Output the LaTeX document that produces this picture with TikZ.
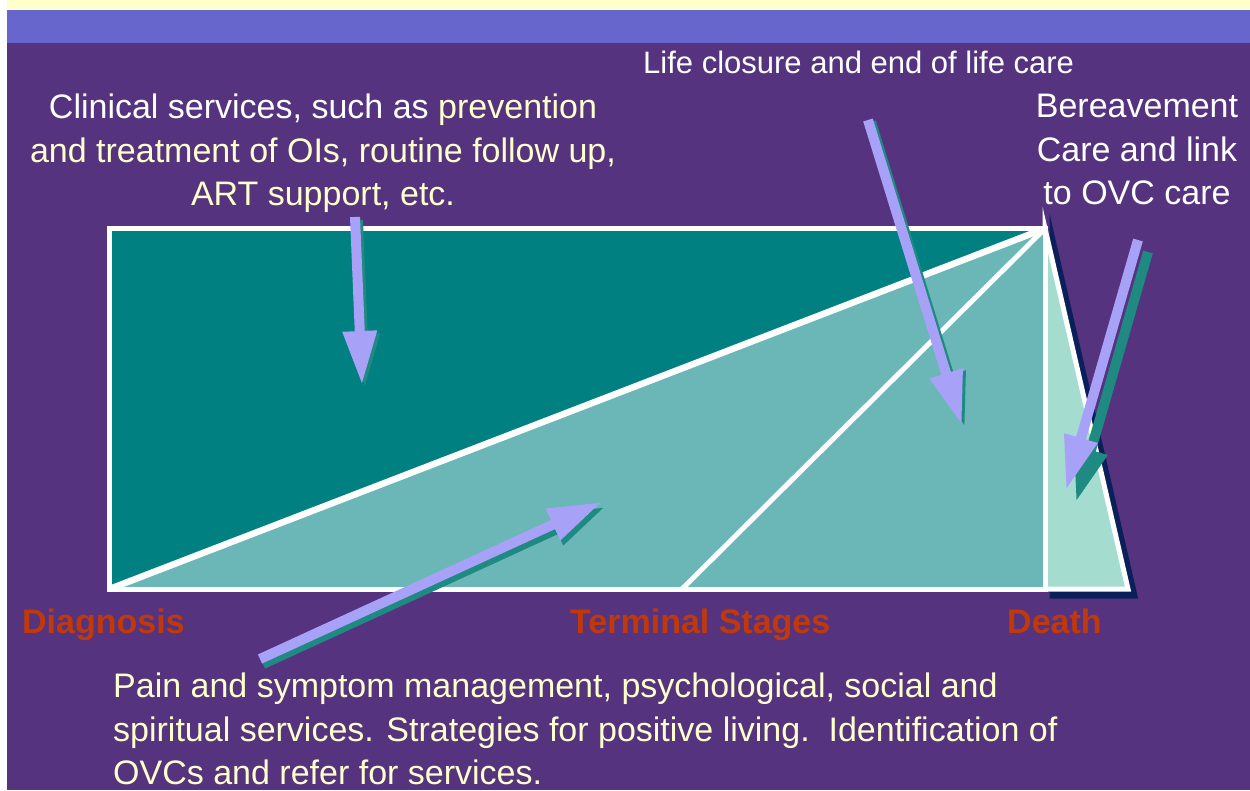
\documentclass[tikz,border=0pt]{standalone}
\usepackage{fontspec}
\setmainfont{Liberation Sans}
\usetikzlibrary{arrows.meta}
\definecolor{bgpurple}{HTML}{55337F}
\definecolor{bandblue}{HTML}{6666CC}
\definecolor{cream}{HTML}{FFFFCC}
\definecolor{darkteal}{HTML}{008080}
\definecolor{lightteal}{HTML}{6BB6B6}
\definecolor{mint}{HTML}{A4DCD0}
\definecolor{navy}{HTML}{0B1F5B}
\definecolor{lavender}{HTML}{A7A1F7}
\definecolor{shteal}{HTML}{1F8A82}
\definecolor{labelred}{HTML}{C0390A}
\begin{document}
\begin{tikzpicture}[x=1pt,y=-1pt,
  fatarrow/.style={line width=10pt, draw=lavender, -{Triangle[length=54pt,width=32pt]}},
  shadowarrow/.style={fatarrow, draw=shteal},
  whiteline/.style={draw=white, line width=5pt, line join=miter},
  bodytxt/.style={inner sep=0pt, font=\fontsize{34}{43.5}\selectfont},
  stagelabel/.style={inner sep=0pt, anchor=base west, text=labelred, font=\bfseries\fontsize{34}{40}\selectfont}]
\useasboundingbox (0,0) rectangle (1250,790);
% background
\fill[white] (0,0) rectangle (1250,790);
\fill[cream] (7,0) rectangle (1250,10);
\fill[bandblue] (7,10) rectangle (1250,43);
\fill[bgpurple] (7,43) rectangle (1250,790);
% geometry
\coordinate (TL) at (109.5,228.5);
\coordinate (TR) at (1045,228.5);
\coordinate (BR) at (1045,589);
\coordinate (BL) at (109.5,589);
\coordinate (TE) at (1128,589);
\coordinate (MID) at (682,589);
% triangle with shadow
\filldraw[fill=navy, draw=navy, line width=5pt] ([shift={(7,7)}]TR) -- ([shift={(7,7)}]TE) -- ([shift={(7,7)}]BR) -- cycle;
\filldraw[fill=mint, whiteline] (TR) -- (TE) -- (BR) -- cycle;
% rectangle
\fill[darkteal] (TL) rectangle (BR);
\fill[lightteal] (BL) -- (TR) -- (BR) -- cycle;
\draw[whiteline] (TL) rectangle (BR);
\draw[whiteline, line width=6.5pt] (BL) -- (TR);
\draw[whiteline] (MID) -- (TR);
% arrow end points
\coordinate (a1s) at (355,217);
\coordinate (a1e) at (362,385);
\coordinate (a2s) at (868,120);
\coordinate (a2e) at (962,425);
\coordinate (a3s) at (1138,240);
\coordinate (a3e) at (1066,490);
\coordinate (a4s) at (260,659);
\coordinate (a4e) at (602,502);
% arrows
\draw[shadowarrow] ([shift={(3,3)}]a1s) -- ([shift={(3,3)}]a1e);
\draw[fatarrow] (a1s) -- (a1e);
\draw[shadowarrow] ([shift={(3,2)}]a2s) -- ([shift={(3,2)}]a2e);
\draw[fatarrow] (a2s) -- (a2e);
\draw[shadowarrow] ([shift={(10,12)}]a3s) -- ([shift={(10,12)}]a3e);
\draw[fatarrow] (a3s) -- (a3e);
\draw[shadowarrow] ([shift={(3,5)}]a4s) -- ([shift={(3,5)}]a4e);
\draw[fatarrow] (a4s) -- (a4e);
% texts
\node[bodytxt, anchor=base west, text=white, font=\fontsize{31}{38}\selectfont] (life) at (643,73) {Life closure and end of life care};
\node[bodytxt, anchor=north, align=center, text=cream] (clin) at (323,94)
  {\textcolor{white}{Clinical services, such as} prevention\\and treatment of OIs, routine follow up,\\ART support, etc.};
\node[bodytxt, anchor=north, align=center, text=white] (bere) at (1137,94)
  {Bereavement\\Care and link\\to OVC care};
\node[bodytxt, anchor=north west, align=left, text=cream] (pain) at (113,673)
  {Pain and symptom management, psychological, social and\\spiritual services. Strategies for positive living.\ \ Identification of\\OVCs and refer for services.};
\node[stagelabel] (diag) at (22,633) {Diagnosis};
\node[stagelabel] (term) at (570,633) {Terminal Stages};
\node[stagelabel] (death) at (1007,633) {Death};
\end{tikzpicture}
\end{document}
